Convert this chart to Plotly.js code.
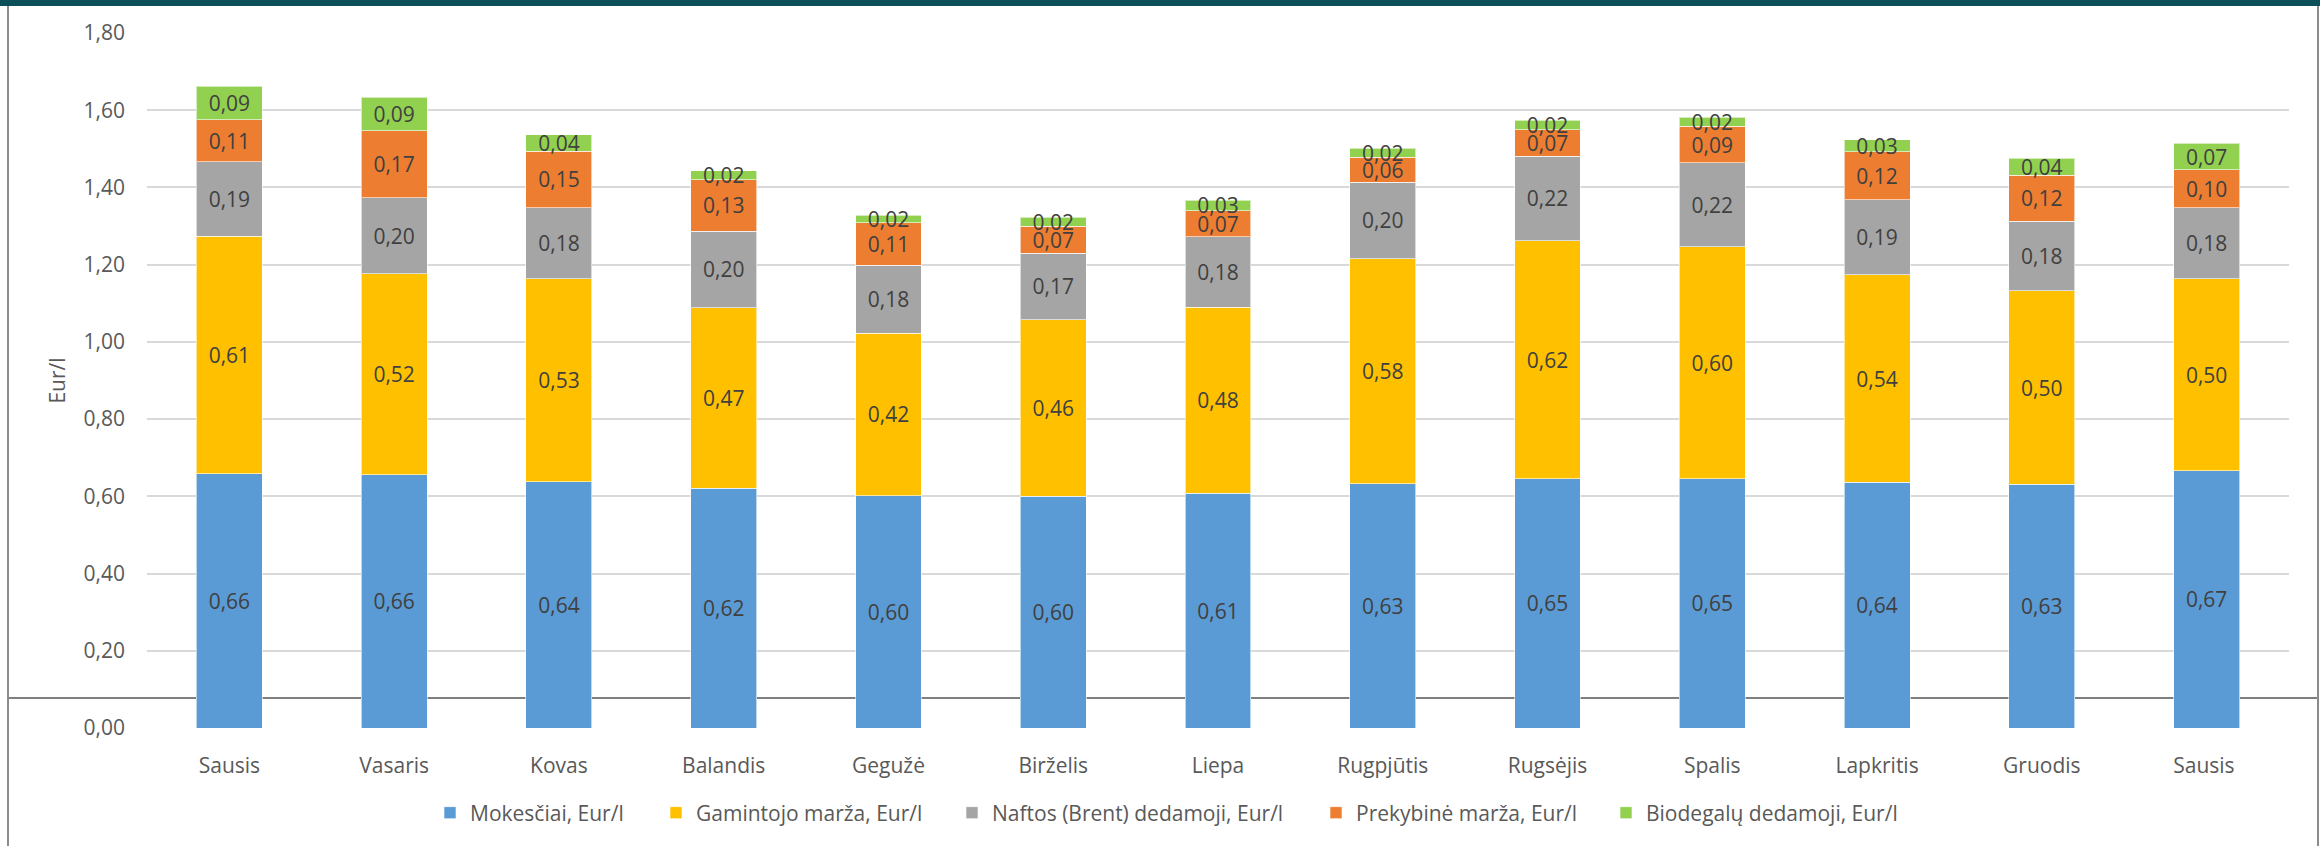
<!DOCTYPE html>
<html>
<head>
<meta charset="utf-8">
<script src="https://cdn.plot.ly/plotly-3.0.1.min.js"></script>
<style>
  html, body { margin: 0; padding: 0; background: #ffffff; }
  #chart { width: 2320px; height: 846px; }
</style>
</head>
<body>
<div id="chart"></div>
<script>
// ---- data ----
const months = ['Sausis', 'Vasaris', 'Kovas', 'Balandis', 'Gegužė', 'Birželis', 'Liepa',
                'Rugpjūtis', 'Rugsėjis', 'Spalis', 'Lapkritis', 'Gruodis', 'Sausis '];
const seriesNames = ['Mokesčiai, Eur/l', 'Gamintojo marža, Eur/l', 'Naftos (Brent) dedamoji, Eur/l',
                     'Prekybinė marža, Eur/l', 'Biodegalų dedamoji, Eur/l'];
const mokesciai   = [0.659, 0.656, 0.638, 0.621, 0.602, 0.600, 0.608, 0.632, 0.646, 0.646, 0.636, 0.631, 0.666];
const gamintojo   = [0.614, 0.521, 0.526, 0.467, 0.421, 0.457, 0.482, 0.583, 0.616, 0.600, 0.538, 0.501, 0.497];
const naftos      = [0.194, 0.196, 0.184, 0.199, 0.176, 0.173, 0.182, 0.199, 0.219, 0.218, 0.194, 0.181, 0.184];
const prekybine   = [0.108, 0.174, 0.146, 0.133, 0.109, 0.070, 0.068, 0.064, 0.069, 0.094, 0.124, 0.118, 0.099];
const biodegalu   = [0.087, 0.087, 0.042, 0.023, 0.020, 0.023, 0.027, 0.024, 0.024, 0.024, 0.032, 0.044, 0.068];
const yTicks      = [0, 0.2, 0.4, 0.6, 0.8, 1.0, 1.2, 1.4, 1.6, 1.8];
const yTitle      = 'Eur/l';

// ---- styles ----
const colors = ['#5B9BD5', '#FFC000', '#A5A5A5', '#ED7D31', '#92D050'];
const FONT = '"Open Sans", "Noto Sans", "DejaVu Sans", sans-serif';
const FS = 21;
const seriesValues = [mokesciai, gamintojo, naftos, prekybine, biodegalu];
const legendKeys = ['legend', 'legend2', 'legend3', 'legend4', 'legend5'];
const legendSymbolCenters = [450, 676, 972, 1336, 1626]; // px positions of legend swatches

const fmt = v => v.toFixed(2).replace('.', ',');

const traces = seriesValues.map((vals, i) => ({
  type: 'bar',
  name: seriesNames[i],
  legend: legendKeys[i],
  x: months,
  y: vals,
  text: vals.map(fmt),
  textposition: 'inside',
  insidetextanchor: 'middle',
  textangle: 0,
  constraintext: 'none',
  cliponaxis: false,
  textfont: { family: FONT, size: FS, color: '#404040' },
  marker: { color: colors[i], line: { color: 'rgba(255,255,255,0.6)', width: 1 } },
  hoverinfo: 'skip'
}));

// pixel -> paper helpers for frame decorations (margins below)
const M = { l: 147, r: 31, t: 33, b: 118 };
const W = 2320, H = 846;
const pw = W - M.l - M.r, ph = H - M.t - M.b;
const px = x => (x - M.l) / pw;
const py = y => (H - M.b - y) / ph;

const layout = {
  width: W,
  height: H,
  margin: M,
  paper_bgcolor: '#ffffff',
  plot_bgcolor: 'rgba(0,0,0,0)',
  barmode: 'stack',
  bargap: 0.6,
  separators: ',.',
  font: { family: FONT, size: FS, color: '#595959' },
  showlegend: true,
  uniformtext: { mode: 'show', minsize: FS },
  xaxis: {
    type: 'category',
    categoryorder: 'array',
    categoryarray: months,
    showgrid: false,
    showline: false,
    zeroline: false,
    ticks: 'outside',
    ticklen: 19,
    tickcolor: 'rgba(0,0,0,0)',
    tickfont: { family: FONT, size: FS, color: '#595959' },
    fixedrange: true
  },
  yaxis: {
    range: [0, 1.8],
    tickvals: yTicks,
    tickformat: '.2f',
    showgrid: true,
    gridcolor: '#D9D9D9',
    gridwidth: 2,
    zeroline: false,
    showline: false,
    ticks: '',
    ticklabelstandoff: 21,
    tickfont: { family: FONT, size: FS, color: '#595959' },
    title: { text: yTitle, font: { family: FONT, size: FS, color: '#595959' }, standoff: 12 },
    fixedrange: true
  },
  shapes: [
    // horizontal rule behind the bars
    { type: 'line', xref: 'paper', yref: 'paper', layer: 'below',
      x0: px(8), x1: px(2318), y0: py(698), y1: py(698),
      line: { color: '#7F7F7F', width: 2 } },
    // left frame
    { type: 'line', xref: 'paper', yref: 'paper',
      x0: px(8), x1: px(8), y0: py(6), y1: py(850),
      line: { color: '#8C8C8C', width: 2 } },
    // right frame
    { type: 'line', xref: 'paper', yref: 'paper',
      x0: px(2318), x1: px(2318), y0: py(6), y1: py(850),
      line: { color: '#8C8C8C', width: 2 } },
    // top band
    { type: 'rect', xref: 'paper', yref: 'paper',
      x0: px(-5), x1: px(2325), y0: py(6), y1: py(-5),
      fillcolor: '#0B4F59', line: { width: 0 } }
  ]
};

legendKeys.forEach((k, i) => {
  layout[k] = {
    orientation: 'h',
    x: px(legendSymbolCenters[i] - 20), xanchor: 'left',
    y: py(813), yanchor: 'middle',
    font: { family: FONT, size: FS, color: '#595959' },
    bgcolor: 'rgba(0,0,0,0)',
    borderwidth: 0,
    itemclick: false
  };
});

Plotly.newPlot('chart', traces, layout, { displayModeBar: false, staticPlot: true });
</script>
</body>
</html>
